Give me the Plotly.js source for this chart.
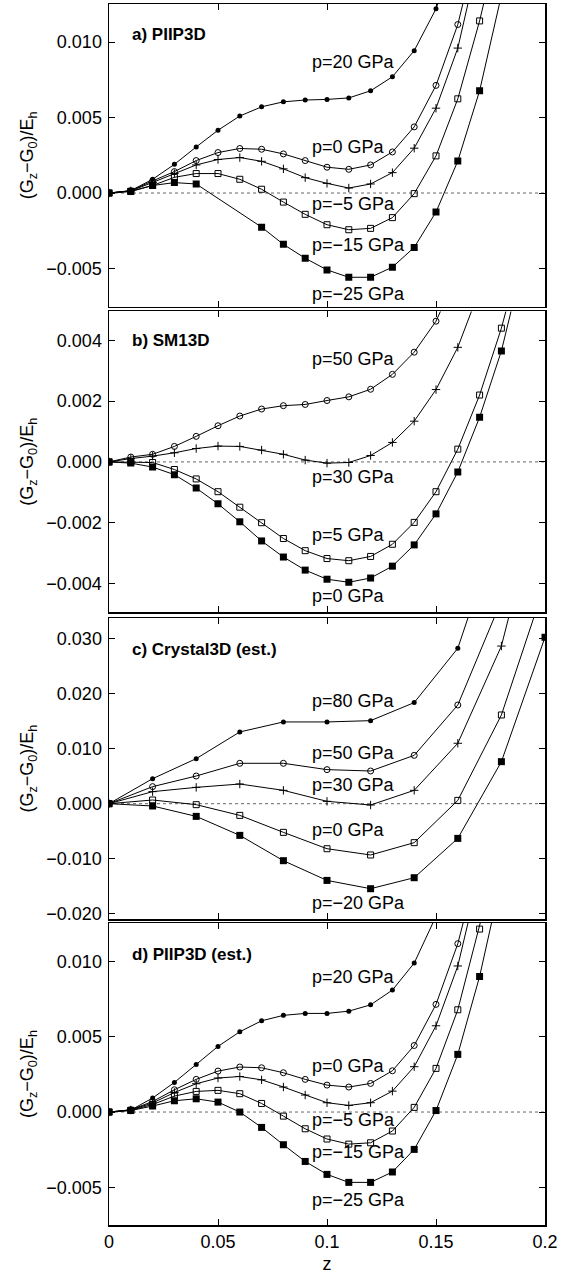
<!DOCTYPE html>
<html>
<head>
<meta charset="utf-8">
<script src="https://cdn.plot.ly/plotly-3.0.1.min.js"></script>
<style>html,body{margin:0;padding:0;background:#fff;}</style>
</head>
<body>
<div id="chart" style="width:562px;height:1285px;"></div>
<script>
// ---------- Panel a) PIIP3D ----------
const zA = [0,0.01,0.02,0.03,0.04,0.05,0.06,0.07,0.08,0.09,0.10,0.11,0.12,0.13,0.14,0.15,0.16,0.17,0.18];
const a_p20  = [0,0.00016,0.00091,0.0019,0.00305,0.00416,0.0051,0.00571,0.00604,0.00616,0.0062,0.0063,0.00677,0.0077,0.00943,0.0122,0.0162,null,null];
const a_p0   = [0,0.00015,0.0008,0.00142,0.00215,0.00268,0.00295,0.0029,0.00259,0.00215,0.00171,0.00157,0.00186,0.00272,0.00438,0.00713,0.01116,0.0171,null];
const a_m5   = [0,0.00014,0.0007,0.00129,0.00186,0.00222,0.00235,0.0021,0.0016,0.00102,0.00064,0.00033,0.0006,0.00135,0.00297,0.00562,0.0096,0.0159,null];
const a_m15  = [0,0.00012,0.0005,0.00104,0.00129,0.00129,0.00091,0.00025,-0.0006,-0.00141,-0.0021,-0.00243,-0.00234,-0.00163,-0.00004,0.00246,0.00624,0.0114,0.0175];
const a_m25  = [0,0.0001,0.0005,0.00069,0.0006,null,null,-0.00226,-0.0034,-0.00432,-0.00509,-0.00558,-0.00558,-0.00491,-0.0036,-0.00126,0.00212,0.00677,0.0131];

// ---------- Panel b) SM13D ----------
const zB = [0,0.01,0.02,0.03,0.04,0.05,0.06,0.07,0.08,0.09,0.10,0.11,0.12,0.13,0.14,0.15,0.16,0.17,0.18,0.19];
const b_p50 = [0,0.00016,0.00025,0.00051,0.00084,0.00119,0.00151,0.00174,0.00185,0.00189,0.00202,0.00214,0.00239,0.00288,0.00361,0.00463,0.0062,null,null,null];
const b_p30 = [0,0.00011,0.00019,0.0003,0.00044,0.00052,0.00051,0.00039,0.00025,0.00006,-0.00004,-0.00002,0.00021,0.00064,0.00134,0.00238,0.00377,0.00566,null,null];
const b_p5  = [0,-0.00001,-0.00002,-0.00025,-0.00056,-0.00098,-0.00149,-0.002,-0.00252,-0.00292,-0.00318,-0.00325,-0.00311,-0.00271,-0.00199,-0.00098,0.00042,0.0022,0.0044,0.0071];
const b_p0  = [0,-0.00004,-0.00017,-0.00042,-0.00086,-0.00138,-0.00197,-0.0026,-0.00313,-0.00356,-0.00386,-0.00396,-0.00382,-0.00343,-0.00273,-0.00171,-0.00033,0.00147,0.00365,0.0066];

// ---------- Panel c) Crystal3D (est.) ----------
const zC = [0,0.02,0.04,0.06,0.08,0.10,0.12,0.14,0.16,0.18,0.20];
const c_p80 = [0,0.00455,0.0082,0.01306,0.01488,0.01488,0.01512,0.0184,0.0283,0.052,null];
const c_p50 = [0,0.0031,0.00504,0.00735,0.00735,0.0062,0.00595,0.0088,0.01797,0.037,null];
const c_p30 = [0,0.00219,0.00297,0.00358,0.00243,0.00043,-0.00024,0.00243,0.011,0.0287,0.060];
const c_p0  = [0,0.00067,-0.00018,-0.00213,-0.00522,-0.0082,-0.00934,-0.0071,0.0006,0.01615,0.040];
const c_m20 = [0,-0.00042,-0.00231,-0.00577,-0.01038,-0.01397,-0.01548,-0.01348,-0.00632,0.00765,0.0303];

// ---------- Panel d) PIIP3D (est.) ----------
const zD = [0,0.01,0.02,0.03,0.04,0.05,0.06,0.07,0.08,0.09,0.10,0.11,0.12,0.13,0.14,0.15,0.16,0.17,0.18];
const d_p20 = [0,0.00013,0.00093,0.00197,0.00316,0.00436,0.00533,0.00606,0.00642,0.00655,0.00655,0.0067,0.00712,0.0081,0.00989,0.0130,null,null,null];
const d_p0  = [0,0.00015,0.0007,0.00148,0.00217,0.00272,0.00299,0.00294,0.00261,0.00217,0.00179,0.00166,0.0019,0.00274,0.00442,0.00715,0.01118,0.0168,null];
const d_m5  = [0,0.00014,0.0006,0.0013,0.00188,0.00226,0.00236,0.00214,0.00166,0.00113,0.00062,0.00044,0.00062,0.00139,0.00301,0.00573,0.0097,0.0158,null];
const d_m15 = [0,0.00012,0.0005,0.00106,0.00137,0.00144,0.00122,0.00057,-0.00027,-0.00111,-0.00179,-0.00213,-0.00204,-0.00126,0.00031,0.0029,0.00679,0.01215,0.0180];
const d_m25 = [0,0.0001,0.0004,0.00075,0.00088,0.00066,0,-0.00102,-0.00217,-0.00328,-0.00414,-0.00467,-0.00467,-0.00398,-0.00248,0.0001,0.00383,0.009,0.0155];

// ---------- Labels ----------
const panelTitles = ["a) PIIP3D", "b) SM13D", "c) Crystal3D (est.)", "d) PIIP3D (est.)"];
const titleY = [0.01047, 0.00401, 0.02805, 0.01045];
const labelsA = ["p=20 GPa","p=0 GPa","p=\u22125 GPa","p=\u221215 GPa","p=\u221225 GPa"];
const labelsAy = [0.00868,0.00303,-0.00075,-0.00347,-0.00668];
const labelsB = ["p=50 GPa","p=30 GPa","p=5 GPa","p=0 GPa"];
const labelsBy = [0.0034,-0.00049,-0.00241,-0.0044];
const labelsC = ["p=80 GPa","p=50 GPa","p=30 GPa","p=0 GPa","p=\u221220 GPa"];
const labelsCy = [0.01876,0.00923,0.00346,-0.00474,-0.01809];
const labelsD = ["p=20 GPa","p=0 GPa","p=\u22125 GPa","p=\u221215 GPa","p=\u221225 GPa"];
const labelsDy = [0.009,0.00303,-0.00051,-0.00262,-0.00582];
const xTicks = [0,0.05,0.1,0.15,0.2];
const xTickText = ["0","0.05","0.1","0.15","0.2"];

const FONT = "Liberation Sans, Arial, Helvetica, sans-serif";
const FS = 18;
const styles = {
  fcirc: {symbol:'circle', size:5, color:'#000', line:{width:0}},
  ocirc: {symbol:'circle-open', size:6, color:'#000', line:{width:1}},
  plus:  {symbol:'cross-thin-open', size:6, color:'#000', line:{width:1}},
  osq:   {symbol:'square-open', size:6, color:'#000', line:{width:1}},
  fsq:   {symbol:'square', size:7, color:'#000', line:{width:0}}
};
function tr(x, y, st, ax) {
  return {x:x, y:y, type:'scatter', mode:'lines+markers', connectgaps:true,
    line:{color:'#000', width:1}, marker:styles[st], xaxis:'x'+ax, yaxis:'y'+ax,
    showlegend:false, hoverinfo:'x+y', cliponaxis:true};
}
const data = [
  tr(zA,a_p20,'fcirc',''), tr(zA,a_p0,'ocirc',''), tr(zA,a_m5,'plus',''), tr(zA,a_m15,'osq',''), tr(zA,a_m25,'fsq',''),
  tr(zB,b_p50,'ocirc','2'), tr(zB,b_p30,'plus','2'), tr(zB,b_p5,'osq','2'), tr(zB,b_p0,'fsq','2'),
  tr(zC,c_p80,'fcirc','3'), tr(zC,c_p50,'ocirc','3'), tr(zC,c_p30,'plus','3'), tr(zC,c_p0,'osq','3'), tr(zC,c_m20,'fsq','3'),
  tr(zD,d_p20,'fcirc','4'), tr(zD,d_p0,'ocirc','4'), tr(zD,d_m5,'plus','4'), tr(zD,d_m15,'osq','4'), tr(zD,d_m25,'fsq','4')
];

const domains = [[0.7522,1],[0.5020,0.7482],[0.2506,0.4971],[0,0.2473]];
const yRanges = [[-0.00752,0.01252],[-0.00494,0.00495],[-0.0210,0.0338],[-0.0075,0.01255]];
const yTicks = [
  [-0.005,0,0.005,0.010],
  [-0.004,-0.002,0,0.002,0.004],
  [-0.020,-0.010,0,0.010,0.020,0.030],
  [-0.005,0,0.005,0.010]
];
const ytitle = "(G<sub>z</sub>\u2212G<sub>0</sub>)/E<sub>h</sub>";

const layout = {
  width:562, height:1285,
  margin:{l:109, r:17, t:4, b:60},
  paper_bgcolor:'#fff', plot_bgcolor:'#fff',
  font:{family:FONT, size:FS, color:'#000'},
  showlegend:false,
  annotations:[], shapes:[]
};
const axNames = ['', '2', '3', '4'];
const labelSets = [[labelsA,labelsAy],[labelsB,labelsBy],[labelsC,labelsCy],[labelsD,labelsDy]];
axNames.forEach((a, i) => {
  const last = (i === 3);
  layout['xaxis'+a] = {
    anchor:'y'+a, domain:[0,1], range:[0,0.2],
    tickvals:xTicks, ticktext:xTickText, showticklabels:last,
    ticks:'inside', ticklen:6, tickwidth:1, tickcolor:'#000',
    showline:true, linecolor:'#000', linewidth:1.5, mirror:'ticks',
    showgrid:false, zeroline:false,
    tickfont:{family:FONT, size:FS},
    title: last ? {text:'z', font:{family:FONT, size:FS}, standoff:6} : {text:''}
  };
  layout['yaxis'+a] = {
    anchor:'x'+a, domain:domains[i], range:yRanges[i],
    tickvals:yTicks[i], tickformat:'.3f',
    ticks:'inside', ticklen:6, tickwidth:1, tickcolor:'#000',
    showline:true, linecolor:'#000', linewidth:1.5, mirror:'ticks',
    showgrid:false, zeroline:false, ticklabelstandoff:2,
    tickfont:{family:FONT, size:FS},
    title:{text:ytitle, font:{family:FONT, size:FS}, standoff:8}
  };
  layout.shapes.push({type:'line', xref:'x'+a+' domain', yref:'y'+a, x0:0, x1:1, y0:0, y1:0,
    line:{color:'#666', width:1, dash:'dot'}, layer:'below'});
  layout.annotations.push({xref:'x'+a, yref:'y'+a, x:0.0098, y:titleY[i], text:'<b>'+panelTitles[i]+'</b>',
    showarrow:false, xanchor:'left', yanchor:'middle', font:{family:FONT, size:17, color:'#000'}});
  const [txt, ys] = labelSets[i];
  txt.forEach((t, k) => {
    layout.annotations.push({xref:'x'+a, yref:'y'+a, x:0.0921, y:ys[k], text:t,
      showarrow:false, xanchor:'left', yanchor:'middle', font:{family:FONT, size:FS, color:'#000'}});
  });
});

Plotly.newPlot('chart', data, layout, {displayModeBar:false, staticPlot:true});
</script>
</body>
</html>
